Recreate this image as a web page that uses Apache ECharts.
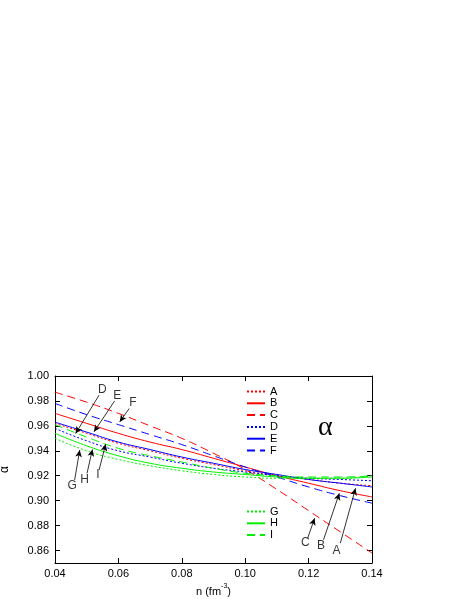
<!DOCTYPE html>
<html>
<head>
<meta charset="utf-8">
<script src="https://cdn.jsdelivr.net/npm/echarts@6/dist/echarts.min.js"></script>
<style>
  html, body { margin: 0; padding: 0; background: #fff; }
  #chart { width: 463px; height: 599px; }
</style>
</head>
<body>
<div id="chart"></div>
<script>
// density n (fm^-3)
const densities = [0.04, 0.05, 0.06, 0.07, 0.08, 0.09, 0.10, 0.11, 0.12, 0.13, 0.14]

// alpha values
const alphaA = [0.962, 0.954, 0.946, 0.940, 0.934, 0.929, 0.924, 0.920, 0.917, 0.914, 0.912]
const alphaB = [0.970, 0.962, 0.954, 0.947, 0.941, 0.934, 0.927, 0.920, 0.914, 0.908, 0.903]
const alphaC = [0.987, 0.979, 0.970, 0.960, 0.950, 0.938, 0.925, 0.909, 0.892, 0.875, 0.858]
const alphaD = [0.958, 0.948, 0.940, 0.935, 0.930, 0.926, 0.923, 0.920, 0.918, 0.917, 0.916]
const alphaE = [0.963, 0.955, 0.947, 0.941, 0.935, 0.930, 0.925, 0.921, 0.917, 0.914, 0.911]
const alphaF = [0.978, 0.969, 0.961, 0.953, 0.945, 0.936, 0.927, 0.919, 0.911, 0.904, 0.898]
const alphaG = [0.950, 0.940, 0.933, 0.928, 0.924, 0.921, 0.919, 0.918, 0.918, 0.918, 0.920]
const alphaH = [0.954, 0.944, 0.936, 0.930, 0.926, 0.923, 0.921, 0.919, 0.918, 0.918, 0.919]
const alphaI = [0.961, 0.951, 0.942, 0.936, 0.931, 0.926, 0.922, 0.920, 0.919, 0.919, 0.920]

const xTicks = [0.04, 0.06, 0.08, 0.10, 0.12, 0.14]
const yTicks = [0.86, 0.88, 0.90, 0.92, 0.94, 0.96, 0.98, 1.00]

// arrow labels: letter, text position, arrow tail, arrow tip (data units)
const arrowLetters = ['D', 'E', 'F', 'G', 'H', 'I', 'C', 'B', 'A']
const arrowText = [[0.0549, 0.9891], [0.0596, 0.9846], [0.0646, 0.9784], [0.0454, 0.9118], [0.0493, 0.9166], [0.0535, 0.9206], [0.1190, 0.8659], [0.1239, 0.8638], [0.1288, 0.8600]]
const arrowTail = [[0.0539, 0.9846], [0.0588, 0.9800], [0.0634, 0.9739], [0.0462, 0.9166], [0.0501, 0.9219], [0.0539, 0.9246], [0.1197, 0.8699], [0.1247, 0.8686], [0.1300, 0.8659]]
const arrowTip = [[0.0465, 0.9539], [0.0523, 0.9552], [0.0604, 0.9632], [0.0478, 0.9406], [0.0518, 0.9411], [0.0560, 0.9454], [0.1219, 0.8859], [0.1297, 0.9059], [0.1348, 0.9099]]

const RED = '#ff0000'
const BLUE = '#0000ff'
const GREEN = '#00f000'
const DOT = [2, 2]
const DASH = [8, 5]

function curve(name, values, color, type) {
  return {
    name,
    type: 'line',
    data: densities.map((n, i) => [n, values[i]]),
    smooth: true,
    symbol: 'none',
    lineStyle: { color, width: 1, type },
    itemStyle: { color },
  }
}

function initChart() {
  const chart = echarts.init(document.getElementById('chart'))

  // legend keeps only the line sample, no marker
  const legendBase = {
    orient: 'vertical',
    left: 246,
    padding: 0,
    itemWidth: 18,
    itemHeight: 10,
    itemGap: 0.8,
    itemStyle: { opacity: 0, color: 'rgba(0,0,0,0)', borderWidth: 0 },
    textStyle: { fontSize: 11, color: '#000', fontFamily: 'Liberation Sans' },
  }

  const option = {
    animation: false,
    backgroundColor: '#fff',
    textStyle: { fontFamily: 'Liberation Sans' },
    title: {
      text: 'α',
      left: 313,
      top: 409,
      textStyle: { fontFamily: 'Liberation Serif', fontSize: 28, fontWeight: 'normal', color: '#000' },
    },
    legend: [
      { ...legendBase, top: 386, data: ['A', 'B', 'C', 'D', 'E', 'F'] },
      { ...legendBase, top: 506, data: ['G', 'H', 'I'] },
    ],
    grid: { left: 55, right: 91, top: 376, bottom: 36, containLabel: false, outerBoundsMode: 'none' },
    xAxis: [
      {
        type: 'value',
        min: 0.04,
        max: 0.14,
        position: 'bottom',
        name: '{a|n (fm}{s|-3}{a|)}',
        nameLocation: 'middle',
        nameGap: 20,
        nameTextStyle: {
          rich: {
            a: { fontSize: 11, color: '#000', lineHeight: 14, verticalAlign: 'bottom' },
            s: { fontSize: 7, color: '#000', lineHeight: 14, verticalAlign: 'top' },
          },
        },
        axisLine: { lineStyle: { color: '#000', width: 1 } },
        axisTick: { inside: true, length: 5, customValues: xTicks, lineStyle: { color: '#000' } },
        axisLabel: { customValues: xTicks, formatter: (v) => v.toFixed(2), color: '#000', fontSize: 11, margin: 5 },
        splitLine: { show: false },
      },
      {
        type: 'value',
        min: 0.04,
        max: 0.14,
        position: 'top',
        axisLine: { lineStyle: { color: '#000', width: 1 } },
        axisTick: { inside: true, length: 5, customValues: xTicks, lineStyle: { color: '#000' } },
        axisLabel: { show: false },
        splitLine: { show: false },
      },
    ],
    yAxis: [
      {
        type: 'value',
        min: 0.85,
        max: 1.0,
        position: 'left',
        name: 'α',
        nameLocation: 'middle',
        nameRotate: 90,
        nameGap: 44,
        nameTextStyle: { fontSize: 12, color: '#000' },
        axisLine: { show: true, lineStyle: { color: '#000', width: 1 } },
        axisTick: { show: true, inside: true, length: 5, customValues: yTicks, lineStyle: { color: '#000' } },
        axisLabel: { customValues: yTicks, formatter: (v) => v.toFixed(2), color: '#000', fontSize: 11, margin: 6 },
        splitLine: { show: false },
      },
      {
        type: 'value',
        min: 0.85,
        max: 1.0,
        position: 'right',
        axisLine: { show: true, lineStyle: { color: '#000', width: 1 } },
        axisTick: { show: true, inside: true, length: 5, customValues: yTicks, lineStyle: { color: '#000' } },
        axisLabel: { show: false },
        splitLine: { show: false },
      },
    ],
    series: [
      curve('A', alphaA, RED, DOT),
      curve('B', alphaB, RED, 'solid'),
      curve('C', alphaC, RED, DASH),
      curve('D', alphaD, BLUE, DOT),
      curve('E', alphaE, BLUE, 'solid'),
      curve('F', alphaF, BLUE, DASH),
      curve('G', alphaG, GREEN, DOT),
      curve('H', alphaH, GREEN, 'solid'),
      curve('I', alphaI, GREEN, DASH),
      {
        name: 'labels',
        type: 'scatter',
        symbolSize: 0,
        data: arrowText.map((p, i) => [p[0], p[1], arrowLetters[i]]),
        label: {
          show: true,
          position: 'inside',
          formatter: (p) => p.value[2],
          color: '#000',
          fontSize: 12,
        },
        markLine: {
          silent: true,
          symbol: ['none', 'arrow'],
          symbolSize: [5, 7],
          label: { show: false },
          lineStyle: { color: '#000', width: 0.8, type: 'solid' },
          data: arrowTail.map((t, i) => [{ coord: t }, { coord: arrowTip[i] }]),
        },
      },
    ],
  }

  chart.setOption(option)
}

initChart()
</script>
</body>
</html>
